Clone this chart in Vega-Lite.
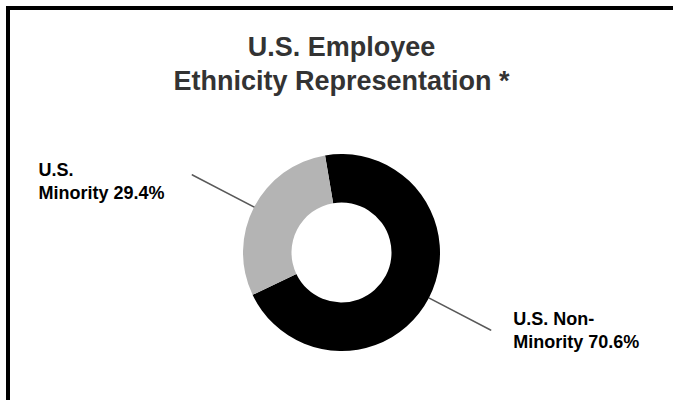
{
  "$schema": "https://vega.github.io/schema/vega-lite/v6.json",
  "width": 665,
  "height": 392,
  "autosize": {"type": "none"},
  "padding": {"left": 8, "top": 8, "right": 0, "bottom": 0},
  "background": "white",
  "view": {"stroke": null, "fill": "white"},
  "config": {"font": "Liberation Sans"},
  "title": {
    "text": ["U.S. Employee", "Ethnicity Representation *"],
    "font": "Liberation Sans",
    "fontSize": 27,
    "fontWeight": "bold",
    "color": "#333333",
    "lineHeight": 34,
    "anchor": "middle",
    "frame": "group",
    "offset": -90,
    "dx": 1
  },
  "data": {
    "values": [
      {"category": "U.S. Non-Minority", "percent": 70.6, "label": "U.S. Non-\nMinority 70.6%"},
      {"category": "U.S. Minority", "percent": 29.4, "label": "U.S.\nMinority 29.4%"}
    ]
  },
  "encoding": {
    "theta": {"field": "percent", "type": "quantitative", "stack": true, "scale": {"domain": [0, 100], "range": [-0.1676, 6.1156]}},
    "order": {"field": "category", "sort": "descending"},
    "detail": {"field": "category"}
  },
  "layer": [
    {
      "data": {"values": [{"edge": "top"}]},
      "mark": {"type": "rule", "stroke": "#000000", "strokeWidth": 4},
      "encoding": {"theta": null, "order": null, "detail": null, "x": {"value": -2}, "x2": {"value": 665}, "y": {"value": 0}, "y2": {"value": 0}}
    },
    {
      "data": {"values": [{"edge": "left"}]},
      "mark": {"type": "rule", "stroke": "#000000", "strokeWidth": 4},
      "encoding": {"theta": null, "order": null, "detail": null, "x": {"value": 0}, "x2": {"value": 0}, "y": {"value": 0}, "y2": {"value": 392}}
    },
    {
      "mark": {"type": "arc", "x": 333.5, "y": 244.5, "radius": 98.5, "radius2": 50},
      "encoding": {
        "color": {
          "field": "category",
          "type": "nominal",
          "scale": {"domain": ["U.S. Non-Minority", "U.S. Minority"], "range": ["#000000", "#b4b4b4"]},
          "legend": null
        }
      }
    },
    {
      "transform": [
        {"stack": "percent", "groupby": [], "as": ["p0", "p1"], "sort": [{"field": "category", "order": "descending"}]},
        {"filter": "datum.category === 'U.S. Non-Minority'"}
      ],
      "mark": {"type": "arc", "x": 333.5, "y": 244.5, "radius": 168, "radius2": 99, "thetaOffset": 2.218, "theta2Offset": -2.218, "fill": null, "stroke": "#595959", "strokeWidth": 1.5},
      "encoding": {
        "theta": {"field": "p0", "type": "quantitative", "scale": {"domain": [0, 100], "range": [-0.1676, 6.1156]}},
        "theta2": {"field": "p1"},
        "order": null,
        "detail": null
      }
    },
    {
      "transform": [
        {"stack": "percent", "groupby": [], "as": ["p0", "p1"], "sort": [{"field": "category", "order": "descending"}]},
        {"filter": "datum.category === 'U.S. Minority'"}
      ],
      "mark": {"type": "arc", "x": 333.5, "y": 244.5, "radius": 168, "radius2": 99, "thetaOffset": 0.9236, "theta2Offset": -0.9236, "fill": null, "stroke": "#595959", "strokeWidth": 1.5},
      "encoding": {
        "theta": {"field": "p0", "type": "quantitative", "scale": {"domain": [0, 100], "range": [-0.1676, 6.1156]}},
        "theta2": {"field": "p1"},
        "order": null,
        "detail": null
      }
    },
    {
      "mark": {"type": "text", "x": 333.5, "y": 244.5, "radius": 168, "align": "left", "baseline": "alphabetic", "dx": -154, "dy": 1.5, "font": "Liberation Sans", "fontSize": 18, "fontWeight": "bold", "lineBreak": "\n", "lineHeight": 23, "color": "#000000"},
      "encoding": {
        "text": {"condition": {"test": "datum.category === 'U.S. Minority'", "field": "label"}, "value": ""}
      }
    },
    {
      "mark": {"type": "text", "x": 333.5, "y": 244.5, "radius": 168, "align": "left", "baseline": "alphabetic", "dx": 22.6, "dy": -4.8, "font": "Liberation Sans", "fontSize": 18, "fontWeight": "bold", "lineBreak": "\n", "lineHeight": 23, "color": "#000000"},
      "encoding": {
        "text": {"condition": {"test": "datum.category === 'U.S. Non-Minority'", "field": "label"}, "value": ""}
      }
    }
  ]
}
